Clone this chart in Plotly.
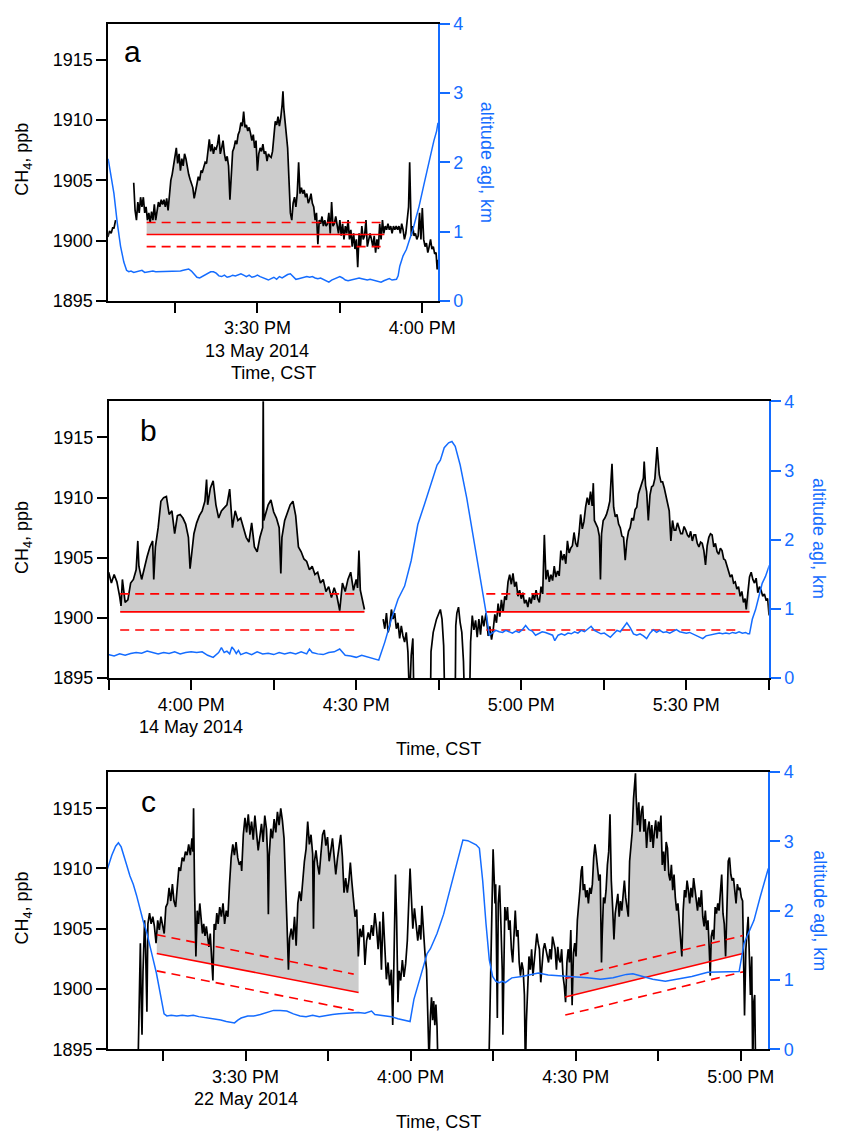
import numpy as np
import plotly.graph_objects as go

FONT = "Liberation Sans, Arial, Helvetica, sans-serif"
BLUE = "rgb(20,108,255)"
RED = "rgb(255,0,0)"
GRAY = "rgb(204,204,204)"

# ---------------- Panel a : 13 May 2014 (time = minutes after midnight, CST) ----------------
ch4_a = [
    (902.8, 1900.3), (903.1, 1900.8), (903.4, 1900.6), (903.7, 1901.1), (903.9, 1901.0), (904.2, 1901.7), (904.3, None),
    (907.5, 1904.8), (907.75, 1902.5), (908.0, 1901.7), (908.25, 1903.2), (908.5, 1902.3), (908.75, 1903.6),
    (909.0, 1902.8), (909.25, 1903.6), (909.5, 1902.3), (909.75, 1902.8), (910.0, 1901.7), (910.25, 1902.3),
    (910.5, 1901.5), (910.75, 1902.4), (911.0, 1901.7), (911.25, 1903.0), (911.5, 1901.7), (911.75, 1902.5),
    (912.0, 1903.2), (912.25, 1902.8), (912.5, 1903.4), (912.75, 1903.0), (913.0, 1903.4), (913.25, 1902.8),
    (913.5, 1903.5), (913.75, 1902.5), (914.0, 1903.9), (914.25, 1905.0), (914.5, 1905.5), (914.75, 1906.4),
    (915.0, 1907.0), (915.25, 1907.7), (915.5, 1906.4), (915.75, 1907.2), (916.0, 1905.8), (916.25, 1906.8),
    (916.5, 1906.2), (916.75, 1907.2), (917.0, 1906.8), (917.25, 1906.1), (917.5, 1905.5), (917.75, 1905.1),
    (918.0, 1904.7), (918.25, 1904.4), (918.5, 1903.5), (918.75, 1904.3), (919.0, 1904.7), (919.25, 1905.3),
    (919.5, 1905.0), (919.75, 1905.8), (920.0, 1905.7), (920.25, 1906.1), (920.5, 1906.5), (920.75, 1906.4),
    (921.0, 1907.4), (921.25, 1908.4), (921.5, 1907.4), (921.75, 1908.0), (922.0, 1907.2), (922.25, 1907.7),
    (922.5, 1907.6), (922.75, 1908.0), (923.0, 1908.8), (923.25, 1907.2), (923.5, 1907.7), (923.75, 1908.3),
    (924.0, 1907.2), (924.25, 1906.6), (924.5, 1907.0), (924.75, 1906.2), (925.0, 1903.4), (925.25, 1906.1),
    (925.5, 1907.4), (925.75, 1907.7), (926.0, 1908.3), (926.25, 1908.0), (926.5, 1908.8), (926.75, 1909.1),
    (927.0, 1909.8), (927.25, 1909.5), (927.5, 1910.7), (927.75, 1909.4), (928.0, 1909.6), (928.25, 1909.1),
    (928.5, 1909.4), (928.75, 1908.9), (929.0, 1908.3), (929.25, 1908.8), (929.5, 1907.7), (929.75, 1908.3),
    (930.0, 1905.8), (930.25, 1907.2), (930.5, 1907.7), (930.75, 1907.4), (931.0, 1908.0), (931.25, 1907.2),
    (931.5, 1907.4), (931.75, 1906.6), (932.0, 1907.2), (932.25, 1907.0), (932.5, 1906.9), (932.75, 1907.4),
    (933.0, 1908.8), (933.25, 1909.9), (933.5, 1909.6), (933.75, 1910.3), (934.0, 1909.5), (934.25, 1910.2),
    (934.5, 1911.3), (934.65, 1912.4), (934.8, 1911.0), (935.0, 1910.2), (935.25, 1908.8), (935.5, 1907.7),
    (935.75, 1905.0), (936.0, 1902.3), (936.25, 1901.7), (936.5, 1903.1), (936.75, 1903.6), (937.0, 1902.8),
    (937.25, 1903.9), (937.5, 1906.5), (937.75, 1903.9), (938.0, 1904.4), (938.25, 1903.9), (938.5, 1904.2),
    (938.75, 1903.6), (939.0, 1903.9), (939.25, 1903.1), (939.5, 1903.4), (939.75, 1903.9), (940.0, 1903.1),
    (940.25, 1902.8), (940.5, 1901.7), (940.75, 1902.3), (941.0, 1899.7), (941.25, 1901.7), (941.5, 1901.4),
    (941.75, 1902.0), (942.0, 1901.2), (942.25, 1901.7), (942.5, 1901.2), (942.75, 1901.4), (943.0, 1902.3),
    (943.25, 1900.6), (943.5, 1903.2), (943.75, 1901.2), (944.0, 1901.4), (944.25, 1902.0), (944.5, 1901.4),
    (944.75, 1900.6), (945.0, 1901.7), (945.25, 1900.4), (945.5, 1901.4), (945.75, 1900.1), (946.0, 1901.2),
    (946.25, 1900.6), (946.5, 1901.7), (946.75, 1900.1), (947.0, 1900.9), (947.25, 1899.5), (947.5, 1900.6),
    (947.75, 1899.3), (948.0, 1900.1), (948.25, 1897.8), (948.5, 1900.6), (948.75, 1899.5), (949.0, 1901.2),
    (949.25, 1900.1), (949.5, 1900.4), (949.75, 1901.7), (950.0, 1899.5), (950.25, 1900.1), (950.5, 1900.6),
    (950.75, 1900.1), (951.0, 1899.5), (951.25, 1900.4), (951.5, 1899.0), (951.75, 1900.1), (952.0, 1899.3),
    (952.25, 1901.4), (952.5, 1900.1), (952.75, 1901.7), (953.0, 1900.6), (953.25, 1901.2), (953.5, 1900.9),
    (953.75, 1901.4), (954.0, 1900.9), (954.25, 1901.2), (954.5, 1900.6), (954.75, 1901.2), (955.0, 1900.9),
    (955.25, 1901.2), (955.5, 1900.9), (955.75, 1901.2), (956.0, 1900.6), (956.25, 1901.4), (956.5, 1900.9),
    (956.75, 1900.1), (957.0, 1900.6), (957.25, 1901.7), (957.5, 1902.8), (957.7, 1906.5), (957.9, 1902.3),
    (958.0, 1900.4), (958.25, 1901.2), (958.5, 1900.4), (958.75, 1900.6), (959.0, 1900.1), (959.25, 1900.4),
    (959.5, 1902.3), (959.75, 1900.1), (960.0, 1902.7), (960.25, 1900.1), (960.5, 1899.5), (960.75, 1899.8),
    (961.0, 1899.0), (961.25, 1899.5), (961.5, 1900.1), (961.75, 1899.3), (962.0, 1899.5), (962.25, 1898.9),
    (962.5, 1899.0), (962.7, 1897.6), (962.85, 1898.4),
]
alt_a = [
    (902.85, 2.05), (903.3, 1.83), (903.9, 1.55), (904.5, 1.13), (905.1, 0.79), (905.7, 0.56), (906.2, 0.44),
    (906.6, 0.42), (907.0, 0.43), (907.5, 0.41), (908.0, 0.42), (908.5, 0.43), (909.0, 0.44), (909.5, 0.41),
    (910.0, 0.42), (910.5, 0.43), (911.0, 0.43), (911.5, 0.42), (912.0, 0.42), (912.5, 0.43), (913.0, 0.43),
    (913.5, 0.42), (914.0, 0.42), (914.5, 0.43), (915.0, 0.43), (915.5, 0.42), (916.0, 0.43), (916.5, 0.44),
    (917.0, 0.45), (917.5, 0.46), (918.0, 0.43), (918.5, 0.38), (919.0, 0.34), (919.5, 0.33), (920.0, 0.35),
    (920.5, 0.37), (921.0, 0.40), (921.5, 0.42), (922.0, 0.42), (922.5, 0.40), (923.0, 0.36), (923.5, 0.35),
    (924.0, 0.37), (924.5, 0.34), (925.0, 0.35), (925.5, 0.37), (926.0, 0.36), (926.5, 0.38), (927.0, 0.39),
    (927.5, 0.37), (928.0, 0.35), (928.5, 0.37), (929.0, 0.34), (929.5, 0.35), (930.0, 0.37), (930.5, 0.35),
    (931.0, 0.33), (931.5, 0.32), (932.0, 0.30), (932.5, 0.32), (933.0, 0.34), (933.5, 0.31), (934.0, 0.35),
    (934.5, 0.33), (935.0, 0.36), (935.5, 0.38), (936.0, 0.39), (936.5, 0.35), (937.0, 0.31), (937.5, 0.32),
    (938.0, 0.33), (938.5, 0.34), (939.0, 0.35), (939.5, 0.34), (940.0, 0.35), (940.5, 0.33), (941.0, 0.32),
    (941.5, 0.33), (942.0, 0.31), (942.5, 0.30), (943.0, 0.27), (943.5, 0.30), (944.0, 0.32), (944.5, 0.34),
    (945.0, 0.35), (945.5, 0.33), (946.0, 0.30), (946.5, 0.29), (947.0, 0.30), (947.5, 0.31), (948.0, 0.32),
    (948.5, 0.33), (949.0, 0.32), (949.5, 0.31), (950.0, 0.30), (950.5, 0.31), (951.0, 0.30), (951.5, 0.29),
    (952.0, 0.28), (952.5, 0.27), (953.0, 0.29), (953.5, 0.31), (954.0, 0.32), (954.5, 0.30), (955.0, 0.30),
    (955.3, 0.31), (955.6, 0.36), (955.9, 0.50), (956.5, 0.65), (957.1, 0.74), (957.7, 0.89), (958.3, 1.03),
    (958.85, 1.20), (959.4, 1.36), (960.3, 1.68), (960.9, 1.90), (961.5, 2.12), (962.1, 2.31), (962.6, 2.45),
    (962.85, 2.57),
]
bg_a_t = [909.85, 953.1]
bg_a = [1900.5, 1900.5]
bg_a_dash_t = [909.85, 952.6]
bg_a_hi = [1901.5, 1901.5]
bg_a_lo = [1899.5, 1899.5]

# ---------------- Panel b : 14 May 2014 ----------------
ch4_b = [
    (945.0, 1903.8), (945.5, 1902.9), (946.0, 1903.6), (946.5, 1903.0), (947.0, 1901.8), (947.25, 1901.0),
    (947.5, 1903.2), (948.0, 1901.3), (948.5, 1901.5), (949.0, 1902.9), (949.5, 1903.2), (950.0, 1904.0),
    (950.3, 1906.4), (950.5, 1904.3), (951.0, 1903.2), (951.5, 1904.3), (952.0, 1905.1), (952.5, 1905.9),
    (953.0, 1906.4), (953.2, 1903.2), (953.5, 1905.9), (954.0, 1907.5), (954.5, 1909.7), (955.0, 1910.0),
    (955.5, 1910.1), (956.0, 1908.6), (956.5, 1908.9), (957.0, 1907.0), (957.5, 1908.5), (958.0, 1908.6),
    (958.5, 1908.3), (959.0, 1907.8), (959.5, 1906.7), (959.8, 1904.1), (960.0, 1904.8), (960.5, 1907.0),
    (961.0, 1907.9), (961.5, 1908.5), (962.0, 1908.9), (962.5, 1909.7), (962.8, 1911.5), (963.0, 1909.4),
    (963.5, 1910.8), (964.0, 1911.4), (964.5, 1909.4), (965.0, 1908.3), (965.5, 1908.9), (966.0, 1909.2),
    (966.5, 1909.4), (967.0, 1910.7), (967.5, 1907.5), (968.0, 1908.9), (968.5, 1908.1), (969.0, 1908.3),
    (969.5, 1907.5), (970.0, 1906.7), (970.5, 1906.3), (971.0, 1907.9), (971.5, 1905.9), (972.0, 1905.5),
    (972.5, 1906.7), (973.0, 1907.5), (973.1, 1919.0), (973.2, 1908.1), (973.5, 1908.6), (974.0, 1909.4),
    (974.5, 1909.8), (975.0, 1908.8), (975.5, 1908.3), (976.0, 1907.5), (976.3, 1903.7), (976.5, 1906.7),
    (977.0, 1908.1), (977.5, 1908.8), (978.0, 1909.4), (978.5, 1909.7), (979.0, 1908.5), (979.5, 1905.9),
    (980.0, 1905.5), (980.5, 1904.9), (981.0, 1904.7), (981.5, 1904.0), (982.0, 1904.3), (982.5, 1903.6),
    (983.0, 1903.8), (983.5, 1902.9), (984.0, 1903.2), (984.5, 1902.2), (985.0, 1902.6), (985.5, 1901.7),
    (986.0, 1902.5), (986.5, 1901.8), (987.0, 1900.6), (987.5, 1902.9), (988.0, 1902.2), (988.5, 1903.2),
    (989.0, 1903.8), (989.5, 1902.3), (990.0, 1903.2), (990.25, 1902.5), (990.5, 1905.6), (990.75, 1902.3),
    (991.0, 1901.8), (991.5, 1900.7), (991.6, None),
    (994.9, 1899.9), (995.2, 1899.1), (995.5, 1900.4), (995.8, 1898.8), (996.1, 1899.35), (996.4, 1900.7),
    (996.7, 1899.9), (997.0, 1900.4), (997.3, 1899.1), (997.6, 1899.6), (997.9, 1898.3), (998.2, 1899.35),
    (998.5, 1898.5), (998.8, 1898.0), (999.1, 1898.8), (999.4, 1897.2), (999.7, 1893.0), (1000.0, 1896.9),
    (1000.3, 1898.3), (1000.5, 1893.0), (1003.5, 1893.0), (1003.6, 1897.2), (1004.0, 1898.8), (1004.6, 1899.9),
    (1005.3, 1900.7), (1005.6, 1899.9), (1005.9, 1897.7), (1006.1, 1893.0), (1008.0, 1893.0), (1008.1, 1899.35),
    (1008.3, 1900.4), (1008.6, 1900.9), (1008.9, 1899.6), (1009.2, 1898.8), (1009.5, 1896.4), (1009.7, 1893.0),
    (1010.6, 1893.0), (1010.8, 1898.0), (1011.1, 1900.2), (1011.4, 1899.0), (1011.7, 1899.8), (1012.0, 1898.4),
    (1012.3, 1899.9), (1012.6, 1898.6), (1012.9, 1900.2), (1013.2, 1899.3), (1013.6, 1900.4), (1014.0, 1898.5),
    (1014.3, 1899.3), (1014.6, 1898.2), (1014.9, 1899.0), (1015.2, 1900.3), (1015.5, 1899.6), (1015.8, 1901.2),
    (1016.1, 1900.1), (1016.4, 1901.5), (1016.7, 1900.5), (1017.0, 1901.8), (1017.3, 1901.5), (1017.6, 1903.0),
    (1017.9, 1903.6), (1018.2, 1902.8), (1018.5, 1903.7), (1018.8, 1902.6), (1019.1, 1903.0), (1019.4, 1901.8),
    (1019.7, 1902.3), (1020.0, 1901.6), (1020.3, 1902.1), (1020.6, 1901.2), (1020.9, 1901.5), (1021.2, 1900.9),
    (1021.5, 1901.7), (1021.8, 1901.2), (1022.1, 1902.0), (1022.4, 1901.5), (1022.7, 1902.3), (1023.0, 1901.6),
    (1023.3, 1901.3), (1023.6, 1902.6), (1023.9, 1902.0), (1024.2, 1906.9), (1024.5, 1903.2), (1024.8, 1904.0),
    (1025.1, 1903.0), (1025.4, 1903.6), (1025.7, 1903.1), (1026.0, 1904.3), (1026.3, 1903.4), (1026.6, 1903.9),
    (1026.9, 1903.5), (1027.2, 1905.6), (1027.5, 1904.8), (1027.8, 1905.3), (1028.1, 1904.5), (1028.4, 1906.4),
    (1028.7, 1905.4), (1029.0, 1905.8), (1029.3, 1906.0), (1029.6, 1907.1), (1029.9, 1906.2), (1030.2, 1905.9),
    (1030.5, 1907.0), (1030.8, 1908.6), (1031.1, 1907.4), (1031.4, 1908.0), (1031.7, 1909.2), (1032.0, 1910.0),
    (1032.3, 1909.4), (1032.6, 1910.5), (1032.9, 1909.3), (1033.1, 1911.2), (1033.3, 1908.1), (1033.6, 1907.8),
    (1033.9, 1907.5), (1034.2, 1906.8), (1034.4, 1903.2), (1034.6, 1907.0), (1034.9, 1908.1), (1035.2, 1908.3),
    (1035.5, 1908.6), (1035.8, 1909.1), (1036.1, 1909.7), (1036.5, 1912.8), (1036.8, 1909.2), (1037.1, 1908.4),
    (1037.4, 1908.6), (1037.7, 1907.8), (1038.0, 1907.5), (1038.3, 1906.8), (1038.6, 1906.7), (1038.9, 1904.8),
    (1039.2, 1906.4), (1039.5, 1907.2), (1039.8, 1907.5), (1040.1, 1908.3), (1040.4, 1908.1), (1040.7, 1909.0),
    (1041.0, 1909.2), (1041.3, 1910.3), (1041.6, 1910.8), (1041.9, 1911.2), (1042.2, 1911.6), (1042.35, 1913.0),
    (1042.6, 1911.0), (1042.8, 1910.5), (1043.1, 1908.1), (1043.4, 1910.2), (1043.7, 1910.9), (1044.0, 1911.0),
    (1044.3, 1911.6), (1044.7, 1914.2), (1045.1, 1911.9), (1045.4, 1911.3), (1045.7, 1911.3), (1046.0, 1910.8),
    (1046.3, 1910.2), (1046.6, 1909.6), (1046.9, 1908.9), (1047.2, 1906.4), (1047.5, 1908.1), (1047.8, 1907.3),
    (1048.1, 1907.3), (1048.4, 1907.9), (1048.7, 1907.5), (1049.0, 1907.0), (1049.3, 1907.0), (1049.6, 1907.6),
    (1049.9, 1907.3), (1050.2, 1906.9), (1050.5, 1906.7), (1050.8, 1907.2), (1051.1, 1906.4), (1051.4, 1906.9),
    (1051.7, 1906.9), (1052.0, 1906.2), (1052.3, 1905.9), (1052.6, 1906.3), (1052.9, 1906.2), (1053.2, 1905.6),
    (1053.5, 1904.4), (1053.8, 1906.0), (1054.1, 1906.7), (1054.4, 1907.0), (1054.7, 1906.9), (1055.0, 1905.9),
    (1055.3, 1906.2), (1055.6, 1905.5), (1055.9, 1905.3), (1056.2, 1905.8), (1056.5, 1905.6), (1056.8, 1904.9),
    (1057.1, 1904.8), (1057.4, 1904.3), (1057.7, 1903.9), (1058.0, 1903.4), (1058.3, 1903.6), (1058.6, 1902.9),
    (1058.9, 1903.0), (1059.2, 1902.4), (1059.5, 1902.6), (1059.8, 1901.8), (1060.1, 1902.2), (1060.4, 1901.3),
    (1060.7, 1901.6), (1060.9, 1900.7), (1061.2, 1902.1), (1061.5, 1903.4), (1061.8, 1903.8), (1062.1, 1903.2),
    (1062.4, 1902.9), (1062.7, 1903.3), (1063.0, 1902.1), (1063.3, 1902.6), (1063.6, 1902.3), (1063.9, 1901.8),
    (1064.2, 1902.0), (1064.5, 1901.5), (1064.8, 1901.6), (1065.05, 1900.2),
]
alt_b = [
    (944.9, 0.34), (946.0, 0.32), (947.0, 0.35), (948.0, 0.33), (949.0, 0.355), (950.0, 0.37), (951.0, 0.36),
    (952.0, 0.39), (953.0, 0.37), (954.0, 0.35), (955.0, 0.37), (956.0, 0.355), (957.0, 0.38), (958.0, 0.35),
    (959.0, 0.37), (960.0, 0.38), (961.0, 0.37), (962.0, 0.38), (963.0, 0.33), (964.0, 0.30), (965.0, 0.37),
    (965.5, 0.44), (966.0, 0.37), (966.5, 0.39), (967.0, 0.35), (967.4, 0.45), (967.8, 0.41), (968.2, 0.355),
    (968.6, 0.40), (969.0, 0.34), (970.0, 0.37), (971.0, 0.34), (972.0, 0.38), (973.0, 0.35), (974.0, 0.36),
    (975.0, 0.34), (976.0, 0.37), (977.0, 0.35), (978.0, 0.37), (979.0, 0.35), (980.0, 0.38), (981.0, 0.35),
    (981.5, 0.42), (982.0, 0.37), (983.0, 0.35), (984.0, 0.34), (985.0, 0.37), (986.0, 0.38), (987.0, 0.42),
    (987.5, 0.37), (988.0, 0.33), (989.0, 0.32), (990.0, 0.30), (991.0, 0.33), (992.0, 0.31), (993.0, 0.29),
    (994.1, 0.26), (995.2, 0.52), (996.4, 0.85), (997.6, 1.14), (998.8, 1.33), (1000.0, 1.70), (1001.2, 2.22),
    (1002.4, 2.51), (1003.6, 2.79), (1004.7, 3.08), (1005.3, 3.15), (1006.0, 3.33), (1006.8, 3.40),
    (1007.4, 3.42), (1008.0, 3.35), (1008.9, 3.08), (1010.1, 2.60), (1011.3, 2.04), (1012.5, 1.51),
    (1013.6, 0.95), (1014.2, 0.62), (1014.8, 0.66), (1015.4, 0.69), (1016.0, 0.67), (1016.6, 0.66),
    (1017.2, 0.69), (1017.8, 0.67), (1018.4, 0.65), (1019.0, 0.68), (1019.6, 0.66), (1020.2, 0.70),
    (1020.8, 0.76), (1021.4, 0.70), (1022.0, 0.68), (1022.6, 0.62), (1023.2, 0.65), (1023.8, 0.67),
    (1024.4, 0.66), (1025.0, 0.64), (1025.7, 0.62), (1026.1, 0.54), (1026.7, 0.62), (1027.3, 0.64),
    (1027.9, 0.62), (1028.5, 0.65), (1029.1, 0.64), (1029.7, 0.67), (1030.3, 0.65), (1030.9, 0.69),
    (1031.5, 0.67), (1032.1, 0.71), (1032.7, 0.75), (1033.3, 0.69), (1033.9, 0.66), (1034.5, 0.64),
    (1035.1, 0.65), (1035.6, 0.62), (1036.2, 0.59), (1036.8, 0.64), (1037.4, 0.69), (1038.0, 0.67),
    (1038.6, 0.73), (1039.2, 0.80), (1039.8, 0.73), (1040.4, 0.64), (1041.0, 0.62), (1041.6, 0.64),
    (1042.2, 0.61), (1042.8, 0.57), (1043.4, 0.65), (1044.0, 0.70), (1044.6, 0.66), (1045.2, 0.69),
    (1045.8, 0.66), (1046.4, 0.67), (1047.0, 0.65), (1047.6, 0.67), (1048.2, 0.70), (1048.8, 0.67),
    (1049.4, 0.66), (1050.0, 0.65), (1050.6, 0.66), (1051.2, 0.64), (1051.8, 0.62), (1052.4, 0.59),
    (1053.0, 0.57), (1053.6, 0.61), (1054.2, 0.62), (1054.8, 0.62), (1055.4, 0.64), (1056.0, 0.65),
    (1056.6, 0.64), (1057.2, 0.65), (1057.8, 0.64), (1058.4, 0.66), (1059.0, 0.65), (1059.6, 0.67),
    (1060.2, 0.65), (1060.8, 0.66), (1061.2, 0.64), (1061.5, 0.64), (1062.0, 0.85), (1062.6, 0.99),
    (1063.2, 1.18), (1063.8, 1.37), (1064.4, 1.47), (1065.1, 1.63),
]
bg_b1_t = [947.1, 991.5]
bg_b1 = [1900.5, 1900.5]
bg_b1_dash_t = [947.1, 990.2]
bg_b2_t = [1013.65, 1061.5]
bg_b2 = [1900.5, 1900.5]
bg_b2_dash_t = [1013.65, 1060.0]
bg_b_hi = [1902.0, 1902.0]
bg_b_lo = [1899.0, 1899.0]

# ---------------- Panel c : 22 May 2014 ----------------
ch4_c = [
    (910.48, 1894.0), (910.65, 1898.9), (910.89, 1903.8), (911.07, 1898.4), (911.19, 1896.2), (911.37, 1901.4),
    (911.66, 1905.7), (911.84, 1903.3), (912.08, 1898.1), (912.26, 1905.4), (912.56, 1906.3), (912.85, 1905.4),
    (913.15, 1906.0), (913.44, 1905.2), (913.74, 1903.8), (914.04, 1905.7), (914.33, 1904.9), (914.63, 1906.0),
    (914.93, 1905.4), (915.22, 1904.6), (915.52, 1906.8), (915.82, 1907.1), (916.11, 1908.4), (916.41, 1907.3),
    (916.71, 1908.7), (917.0, 1907.3), (917.3, 1906.8), (917.6, 1908.4), (917.89, 1910.1), (918.19, 1909.8),
    (918.49, 1910.9), (918.78, 1910.6), (919.08, 1911.4), (919.38, 1911.1), (919.67, 1912.0), (919.97, 1911.1),
    (920.27, 1912.5), (920.45, 1911.4), (920.56, 1915.0), (920.74, 1908.2), (920.98, 1902.7), (921.22, 1906.5),
    (921.45, 1905.4), (921.69, 1907.1), (921.93, 1906.0), (922.17, 1904.6), (922.4, 1905.4), (922.64, 1904.4),
    (922.88, 1905.2), (923.12, 1904.1), (923.35, 1903.5), (923.59, 1904.6), (923.83, 1902.2), (924.07, 1900.7),
    (924.3, 1905.4), (924.54, 1904.9), (924.78, 1906.3), (925.02, 1905.4), (925.31, 1906.8), (925.61, 1906.0),
    (925.91, 1907.1), (926.2, 1905.4), (926.5, 1906.5), (926.8, 1906.0), (927.09, 1908.7), (927.39, 1910.9),
    (927.69, 1912.0), (927.98, 1911.1), (928.28, 1912.2), (928.58, 1910.9), (928.87, 1910.3), (929.17, 1910.6),
    (929.3, 1909.8), (929.6, 1912.8), (929.9, 1914.2), (930.2, 1913.0), (930.5, 1914.5), (930.8, 1912.8),
    (931.1, 1913.9), (931.4, 1912.4), (931.7, 1914.4), (932.0, 1913.2), (932.3, 1911.5), (932.6, 1912.6),
    (932.9, 1913.7), (933.2, 1912.2), (933.5, 1914.4), (933.8, 1913.3), (934.0, 1911.3), (934.15, 1906.2),
    (934.3, 1911.0), (934.6, 1913.3), (934.9, 1912.5), (935.2, 1914.1), (935.5, 1913.0), (935.8, 1914.7),
    (936.1, 1913.6), (936.4, 1915.0), (936.7, 1914.0), (937.0, 1912.5), (937.3, 1909.2), (937.55, 1905.2),
    (937.8, 1901.6), (938.0, 1904.2), (938.3, 1905.0), (938.6, 1904.1), (938.9, 1906.0), (939.2, 1903.6),
    (939.5, 1907.1), (939.8, 1908.1), (940.1, 1907.3), (940.4, 1909.1), (940.7, 1910.6), (941.0, 1911.6),
    (941.3, 1913.9), (941.6, 1912.0), (941.9, 1912.8), (942.2, 1911.2), (942.35, 1905.0), (942.5, 1910.5),
    (942.8, 1911.5), (943.1, 1910.3), (943.4, 1909.5), (943.7, 1911.2), (944.0, 1912.8), (944.3, 1913.2),
    (944.6, 1911.9), (944.9, 1912.6), (945.2, 1910.6), (945.5, 1911.5), (945.8, 1912.5), (946.1, 1911.0),
    (946.4, 1909.5), (946.7, 1910.8), (947.0, 1911.9), (947.3, 1912.8), (947.6, 1911.0), (947.9, 1908.0),
    (948.2, 1909.2), (948.5, 1908.0), (948.8, 1909.1), (949.05, 1910.5), (949.3, 1909.0), (949.6, 1907.3),
    (949.9, 1906.0), (950.2, 1906.6), (950.5, 1902.7), (950.8, 1905.0), (951.1, 1904.3), (951.4, 1905.3),
    (951.7, 1902.0), (952.0, 1904.0), (952.3, 1904.7), (952.6, 1904.1), (952.9, 1905.3), (953.2, 1904.4),
    (953.5, 1906.3), (953.8, 1905.1), (954.1, 1903.3), (954.4, 1905.6), (954.7, 1901.6), (955.0, 1906.4),
    (955.3, 1903.5), (955.6, 1900.8), (955.9, 1902.2), (956.2, 1900.3), (956.5, 1901.6), (956.75, 1897.0),
    (957.0, 1903.0), (957.25, 1909.5), (957.45, 1906.0), (957.6, 1902.0), (957.7, 1898.9), (957.9, 1901.5),
    (958.2, 1900.7), (958.5, 1902.4), (958.8, 1901.0), (959.1, 1902.1), (959.4, 1904.0), (959.65, 1907.0),
    (959.9, 1910.0), (960.15, 1907.5), (960.4, 1905.0), (960.7, 1906.7), (961.0, 1905.3), (961.3, 1904.0),
    (961.6, 1905.3), (961.85, 1904.1), (962.05, 1906.9), (962.3, 1904.8), (962.6, 1903.0), (962.9, 1901.6),
    (963.1, 1898.9), (963.35, 1894.0), (963.6, 1897.8), (963.8, 1899.3), (964.0, 1897.4), (964.2, 1899.0),
    (964.4, 1897.0), (964.6, 1898.7), (964.8, 1896.9), (965.0, 1893.0), (974.2, 1893.0),
    (974.57, 1902.2), (974.87, 1907.6), (974.99, 1911.6), (975.16, 1909.5), (975.34, 1907.1), (975.46, 1908.7),
    (975.64, 1899.5), (975.76, 1897.6), (975.93, 1907.1), (976.17, 1908.6), (976.41, 1905.4), (976.65, 1901.6),
    (976.77, 1896.2), (976.94, 1903.8), (977.12, 1906.8), (977.36, 1905.7), (977.6, 1906.8), (977.83, 1904.9),
    (978.07, 1905.7), (978.31, 1903.3), (978.55, 1902.2), (978.78, 1904.35), (979.02, 1906.5), (979.26, 1904.35),
    (979.5, 1904.9), (979.73, 1902.2), (979.97, 1901.1), (980.21, 1902.2), (980.45, 1901.6), (980.68, 1899.5),
    (980.86, 1893.0), (981.04, 1897.3), (981.28, 1900.8), (981.51, 1902.7), (981.75, 1901.6), (981.99, 1903.3),
    (982.23, 1901.1), (982.46, 1902.2), (982.7, 1903.3), (982.94, 1904.6), (983.18, 1903.8), (983.41, 1903.3),
    (983.65, 1900.55), (983.89, 1902.2), (984.12, 1903.3), (984.36, 1903.8), (984.6, 1903.3), (984.84, 1902.7),
    (985.07, 1902.2), (985.31, 1903.3), (985.55, 1902.45), (985.79, 1904.35), (986.02, 1903.7), (986.26, 1903.3),
    (986.5, 1901.6), (986.74, 1903.5), (986.97, 1902.45), (987.21, 1902.2), (987.45, 1903.3), (987.69, 1901.1),
    (987.92, 1900.3), (988.16, 1898.9), (988.4, 1902.2), (988.63, 1903.3), (988.87, 1902.2), (989.11, 1904.9),
    (989.35, 1898.65), (989.59, 1903.0), (989.82, 1903.8), (990.06, 1902.7), (990.3, 1905.7), (990.53, 1906.8),
    (990.77, 1908.2), (991.01, 1909.8), (991.19, 1910.2), (991.37, 1908.2), (991.6, 1908.7), (991.84, 1907.6),
    (992.08, 1908.2), (992.31, 1907.1), (992.55, 1908.4), (992.79, 1907.9), (993.03, 1908.7), (993.27, 1910.9),
    (993.5, 1912.0), (993.74, 1911.1), (993.98, 1910.1), (994.21, 1909.0), (994.45, 1909.5), (994.69, 1902.2),
    (994.81, 1904.35), (995.05, 1907.6), (995.28, 1907.1), (995.52, 1908.2), (995.76, 1910.3), (996.0, 1911.4),
    (996.23, 1914.5), (996.47, 1909.0), (996.71, 1906.8), (996.95, 1904.1), (997.18, 1906.25), (997.42, 1907.1),
    (997.66, 1907.9), (997.9, 1906.0), (998.13, 1907.3), (998.37, 1906.5), (998.61, 1908.2), (998.85, 1909.0),
    (999.08, 1907.6), (999.32, 1906.5), (999.56, 1906.0), (999.8, 1910.6), (1000.03, 1911.7), (1000.27, 1913.05),
    (1000.51, 1915.8), (1000.74, 1917.4), (1000.86, 1917.9), (1000.98, 1916.0), (1001.22, 1913.6), (1001.46, 1915.5),
    (1001.69, 1913.05), (1001.93, 1914.7), (1002.17, 1915.2), (1002.4, 1913.05), (1002.64, 1914.1), (1002.88, 1911.7),
    (1003.12, 1913.3), (1003.35, 1913.9), (1003.59, 1912.2), (1003.83, 1913.6), (1004.07, 1911.7), (1004.3, 1913.05),
    (1004.54, 1914.0), (1004.78, 1912.5), (1005.02, 1913.9), (1005.25, 1913.05), (1005.49, 1914.4), (1005.73, 1910.3),
    (1005.97, 1911.4), (1006.2, 1909.8), (1006.44, 1912.2), (1006.68, 1911.7), (1006.92, 1909.5), (1007.15, 1909.0),
    (1007.39, 1910.3), (1007.63, 1908.2), (1007.87, 1909.5), (1008.1, 1907.6), (1008.34, 1906.5), (1008.58, 1907.1),
    (1008.82, 1905.4), (1009.05, 1904.6), (1009.29, 1902.7), (1009.53, 1906.5), (1009.77, 1908.2), (1010.0, 1907.6),
    (1010.24, 1909.0), (1010.48, 1908.2), (1010.71, 1907.1), (1010.95, 1908.4), (1011.19, 1907.6), (1011.43, 1909.2),
    (1011.66, 1908.2), (1011.9, 1907.1), (1012.14, 1906.5), (1012.38, 1907.6), (1012.61, 1906.8), (1012.85, 1908.2),
    (1013.09, 1906.0), (1013.33, 1905.2), (1013.56, 1906.5), (1013.8, 1904.9), (1014.04, 1905.7), (1014.27, 1903.3),
    (1014.45, 1901.1), (1014.63, 1904.35), (1014.87, 1904.9), (1015.1, 1904.1), (1015.34, 1906.8), (1015.58, 1906.25),
    (1015.82, 1907.1), (1016.05, 1906.5), (1016.29, 1908.2), (1016.53, 1909.5), (1016.77, 1906.25), (1017.0, 1905.4),
    (1017.24, 1902.7), (1017.48, 1907.1), (1017.72, 1910.6), (1017.95, 1910.9), (1018.19, 1909.5), (1018.43, 1909.0),
    (1018.67, 1909.2), (1018.9, 1908.2), (1019.14, 1907.1), (1019.38, 1908.7), (1019.62, 1908.2), (1019.85, 1908.4),
    (1020.09, 1907.6), (1020.33, 1907.3), (1020.51, 1902.2), (1020.68, 1897.8), (1020.92, 1903.3), (1021.16, 1905.4),
    (1021.34, 1906.0), (1021.52, 1903.3), (1021.75, 1899.5), (1021.99, 1902.7), (1022.17, 1893.0), (1022.35, 1898.9),
    (1022.53, 1899.5), (1022.71, 1893.0),
]
alt_c = [
    (904.9, 2.60), (905.7, 2.80), (906.4, 2.93), (906.9, 2.98), (907.4, 2.92), (907.8, 2.80), (908.4, 2.66),
    (909.0, 2.50), (909.6, 2.38), (910.2, 2.22), (910.8, 2.02), (911.4, 1.85), (912.0, 1.70), (912.6, 1.52),
    (913.2, 1.30), (913.8, 1.10), (914.3, 0.88), (914.7, 0.70), (915.2, 0.51), (915.7, 0.48), (916.5, 0.49),
    (917.5, 0.48), (918.5, 0.49), (919.5, 0.48), (920.5, 0.49), (921.5, 0.47), (922.5, 0.46), (923.5, 0.45),
    (924.5, 0.44), (925.5, 0.42), (926.5, 0.40), (927.3, 0.39), (928.0, 0.38), (928.6, 0.42), (929.2, 0.45),
    (930.4, 0.48), (931.5, 0.48), (932.7, 0.50), (933.9, 0.53), (935.1, 0.56), (936.3, 0.56), (937.5, 0.55),
    (938.7, 0.51), (939.9, 0.48), (941.0, 0.47), (942.2, 0.49), (943.4, 0.47), (944.6, 0.49), (945.8, 0.50),
    (947.0, 0.51), (948.2, 0.52), (949.4, 0.52), (950.5, 0.53), (951.7, 0.52), (952.9, 0.55), (953.5, 0.50),
    (954.5, 0.49), (955.3, 0.49), (956.5, 0.47), (957.7, 0.44), (959.0, 0.42), (959.9, 0.40), (960.6, 0.72),
    (961.8, 1.05), (963.0, 1.38), (963.6, 1.45), (964.8, 1.67), (966.0, 1.95), (967.2, 2.33), (968.3, 2.66),
    (969.5, 3.02), (970.4, 3.01), (971.2, 2.98), (971.9, 2.95), (972.5, 2.90), (973.1, 2.43), (973.7, 1.81),
    (974.3, 1.29), (974.9, 1.05), (975.5, 0.98), (976.1, 0.96), (976.7, 0.98), (977.2, 0.96), (978.4, 1.03),
    (980.2, 1.05), (981.4, 1.07), (983.2, 1.10), (985.0, 1.07), (987.3, 1.06), (989.7, 1.05), (992.1, 1.03),
    (994.5, 1.01), (996.8, 1.03), (999.2, 1.08), (1000.4, 1.09), (1002.2, 1.05), (1004.0, 1.01), (1006.3, 0.98),
    (1008.7, 1.01), (1011.1, 1.05), (1014.0, 1.11), (1015.8, 1.11), (1017.5, 1.12), (1019.7, 1.12),
    (1020.6, 1.53), (1022.4, 1.86), (1023.5, 2.19), (1025.0, 2.61),
]
bg_c1_t = [913.87, 950.55]
bg_c1 = [1902.95, 1899.7]
bg_c1_dash_t = [913.87, 949.66]
bg_c1_hi = [1904.5, 1901.23]
bg_c1_lo = [1901.5, 1898.24]
bg_c2_t = [988.1, 1020.4]
bg_c2 = [1899.33, 1902.94]
bg_c2_hi = [1900.87, 1904.43]
bg_c2_lo = [1897.83, 1901.42]

# tick definitions (major = labelled half hours, minor = quarter hours)
tick_a = [930, 960]
lab_a = ["3:30 PM", "4:00 PM"]
minor_a = [915, 945]
tick_b = [960, 990, 1020, 1050]
lab_b = ["4:00 PM", "4:30 PM", "5:00 PM", "5:30 PM"]
minor_b = [945, 975, 1005, 1035, 1065]
tick_c = [930, 960, 990, 1020]
lab_c = ["3:30 PM", "4:00 PM", "4:30 PM", "5:00 PM"]
minor_c = [915, 945, 975, 1005]
dates = ["13 May 2014", "14 May 2014", "22 May 2014"]


# ---------------- helpers ----------------
def unzip(pairs):
    return [p[0] for p in pairs], [p[1] for p in pairs]


def fill_region(pairs, t_line, b_line):
    t, v = unzip(pairs)
    tt = np.array(t, dtype=float)
    vv = np.array([np.nan if x is None else x for x in v], dtype=float)
    ok = ~np.isnan(vv)
    tt, vv = tt[ok], vv[ok]
    t0, t1 = t_line
    m = (tt > t0) & (tt < t1)
    ts = tt[m]
    base = np.interp(ts, t_line, b_line)
    up = np.maximum(vv[m], base)
    v0 = max(np.interp(t0, tt, vv), b_line[0])
    v1 = max(np.interp(t1, tt, vv), b_line[1])
    xs = np.concatenate([[t0, t0], ts, [t1, t1]])
    ys = np.concatenate([[b_line[0], v0], up, [v1, b_line[1]]])
    return xs, ys


fig = go.Figure()


def add_panel(xa, ya, ya2, ch4, alt, segments):
    for seg in segments:
        fx, fy = fill_region(ch4, seg["t"], seg["b"])
        fig.add_trace(go.Scatter(x=fx, y=fy, xaxis=xa, yaxis=ya, mode="lines", fill="toself",
                                 fillcolor=GRAY, line=dict(width=0), hoverinfo="skip", showlegend=False))
    t, v = unzip(ch4)
    fig.add_trace(go.Scatter(x=t, y=v, xaxis=xa, yaxis=ya, mode="lines", connectgaps=False,
                             line=dict(color="black", width=1.7), showlegend=False))
    for seg in segments:
        fig.add_trace(go.Scatter(x=seg["t"], y=seg["b"], xaxis=xa, yaxis=ya, mode="lines",
                                 line=dict(color=RED, width=1.6), showlegend=False))
        for key in ("hi", "lo"):
            fig.add_trace(go.Scatter(x=seg["dt"], y=seg[key], xaxis=xa, yaxis=ya, mode="lines",
                                     line=dict(color=RED, width=1.6, dash="9px,6px"), showlegend=False))
    ta, va = unzip(alt)
    fig.add_trace(go.Scatter(x=ta, y=va, xaxis=xa, yaxis=ya2, mode="lines",
                             line=dict(color=BLUE, width=1.5), showlegend=False))


add_panel("x", "y", "y2", ch4_a, alt_a,
          [dict(t=bg_a_t, b=bg_a, dt=bg_a_dash_t, hi=bg_a_hi, lo=bg_a_lo)])
add_panel("x2", "y3", "y4", ch4_b, alt_b,
          [dict(t=bg_b1_t, b=bg_b1, dt=bg_b1_dash_t, hi=bg_b_hi, lo=bg_b_lo),
           dict(t=bg_b2_t, b=bg_b2, dt=bg_b2_dash_t, hi=bg_b_hi, lo=bg_b_lo)])
add_panel("x3", "y5", "y6", ch4_c, alt_c,
          [dict(t=bg_c1_t, b=bg_c1, dt=bg_c1_dash_t, hi=bg_c1_hi, lo=bg_c1_lo),
           dict(t=bg_c2_t, b=bg_c2, dt=bg_c2_t, hi=bg_c2_hi, lo=bg_c2_lo)])

W, H = 846, 1143
TF = dict(family=FONT, size=18, color="black")
TFB = dict(family=FONT, size=18, color=BLUE)


def xax(dom, rng, anchor, tv, tt, mv):
    return dict(domain=dom, range=rng, anchor=anchor, tickvals=tv, ticktext=tt,
                showline=True, linecolor="black", linewidth=1.5, mirror=True, ticks="outside", ticklen=10,
                tickwidth=1.5, tickcolor="black", showgrid=False, zeroline=False, tickfont=TF, tickangle=0,
                minor=dict(tickvals=mv, ticks="outside", ticklen=10, tickwidth=1.5, tickcolor="black",
                           showgrid=False))


ycommon = dict(showline=True, linecolor="black", linewidth=1.5, ticks="outside", ticklen=10, tickwidth=1.5,
               tickcolor="black", showgrid=False, zeroline=False, tickfont=TF, range=[1895, 1918],
               tickvals=[1895, 1900, 1905, 1910, 1915])
yblue = dict(showline=True, linecolor=BLUE, linewidth=1.5, ticks="outside", ticklen=10, tickwidth=1.5,
             tickcolor=BLUE, showgrid=False, zeroline=False, tickfont=TFB, range=[0, 4], side="right",
             tickvals=[0, 1, 2, 3, 4])


def dx(a, b):
    return [a / W, b / W]


def dy(top, bottom):
    return [1 - bottom / H, 1 - top / H]


fig.update_layout(
    width=W, height=H, autosize=False, margin=dict(l=0, r=0, t=0, b=0, pad=0),
    paper_bgcolor="white", plot_bgcolor="white", showlegend=False,
    font=dict(family=FONT, size=18, color="black"),
    xaxis=xax(dx(110.5, 447.5), [902.85, 962.85], "y", tick_a, lab_a, minor_a),
    yaxis=dict(domain=dy(14, 296), anchor="x", **ycommon),
    yaxis2=dict(overlaying="y", anchor="x", **yblue),
    xaxis2=xax(dx(111, 785.5), [945, 1065], "y3", tick_b, lab_b, minor_b),
    yaxis3=dict(domain=dy(398.3, 680), anchor="x2", **ycommon),
    yaxis4=dict(overlaying="y3", anchor="x2", **yblue),
    xaxis3=xax(dx(110.3, 785), [905, 1025], "y5", tick_c, lab_c, minor_c),
    yaxis5=dict(domain=dy(775.7, 1057.7), anchor="x3", **ycommon),
    yaxis6=dict(overlaying="y5", anchor="x3", **yblue),
)


def ann(text, X, Y, size=18, color="black", angle=0):
    fig.add_annotation(text=text, x=X / W, y=1 - Y / H, xref="paper", yref="paper", showarrow=False,
                       textangle=angle, font=dict(family=FONT, size=size, color=color),
                       xanchor="center", yanchor="middle")


ann("a", 135.5, 42, size=30)
ann("b", 152.2, 428, size=30)
ann("c", 151.3, 806, size=30)
for yc in (152, 537, 914):
    ann("CH<sub>4</sub>, ppb", 24, yc, angle=-90)
ann("altitude agl, km", 497, 155, color=BLUE, angle=90)
ann("altitude agl, km", 837.5, 538, color=BLUE, angle=90)
ann("altitude agl, km", 837.5, 917, color=BLUE, angle=90)
ann(dates[0], 263, 347)
ann(dates[1], 195.5, 730)
ann(dates[2], 251.3, 1108)
ann("Time, CST", 279.3, 369.5)
ann("Time, CST", 448.3, 752)
ann("Time, CST", 448, 1131.5)

fig.write_html("out.html")
